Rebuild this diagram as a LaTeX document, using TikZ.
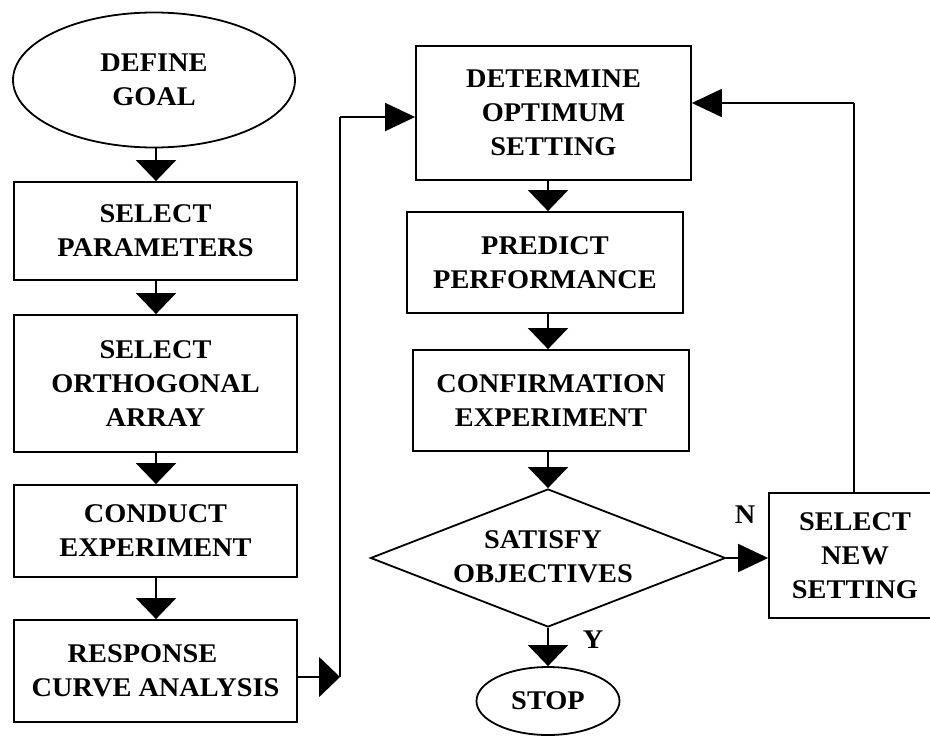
\documentclass[tikz,border=0pt]{standalone}
\usepackage{fontspec}
\setmainfont{Liberation Serif}
\newfontfamily\diagfont[FakeStretch=1.05]{Liberation Serif}
\usetikzlibrary{arrows.meta,shapes.geometric}
\begin{document}
\begin{tikzpicture}[x=1pt,y=-1pt,
  every node/.style={font=\diagfont\fontsize{27}{34}\selectfont\bfseries, align=center, line width=1.8pt},
  box/.style={draw, rectangle, inner sep=0pt},
  oval/.style={draw, ellipse, inner sep=0pt},
  dia/.style={draw, diamond, inner sep=0pt},
  varr/.style={line width=1.8pt, -{Triangle[width=40pt,length=21pt]}},
  harr/.style={line width=1.8pt, -{Triangle[width=28pt,length=30pt]}},
  plain/.style={line width=1.8pt}]
\useasboundingbox (0,0) rectangle (930,736);
% left column
\node[oval, minimum width=282pt, minimum height=135pt] (goal) at (154,80) {DEFINE\\GOAL};
\node[box, minimum width=283pt, minimum height=98pt] (params) at (155.5,231) {SELECT\\PARAMETERS};
\node[box, minimum width=283pt, minimum height=137pt] (ortho) at (155.5,383.5) {SELECT\\ORTHOGONAL\\ARRAY};
\node[box, minimum width=283pt, minimum height=92pt] (conduct) at (155.5,531) {CONDUCT\\EXPERIMENT};
\node[box, minimum width=283pt, minimum height=102pt] (response) at (155.5,671) {RESPONSE\hspace*{26pt}\\CURVE ANALYSIS};
% right column
\node[box, minimum width=275pt, minimum height=134pt] (determine) at (553.5,113) {DETERMINE\\OPTIMUM\\SETTING};
\node[box, minimum width=276pt, minimum height=101pt] (predict) at (545,262.5) {PREDICT\\PERFORMANCE};
\node[box, minimum width=276pt, minimum height=101pt] (confirm) at (551,400.5) {CONFIRMATION\\EXPERIMENT};
\node[dia, minimum width=355pt, minimum height=138pt] (decide) at (548,558) {};
\node (decidetext) at (543,557) {SATISFY\\OBJECTIVES};
\node[oval, minimum width=143pt, minimum height=68pt] (stop) at (548,701) {STOP};
\node[box, minimum width=172pt, minimum height=125pt] (newset) at (855,555.5) {SELECT\\NEW\\SETTING};
\node (nlabel) at (745,515) {N};
\node (ylabel) at (593,640) {Y};
% helper coordinates
\coordinate (ls) at (156,0);
\coordinate (rs) at (548,0);
\coordinate (c1) at (340,677);
\coordinate (c2) at (340,117);
\coordinate (fb) at (854,103);
% connectors
\draw[varr] (goal.south -| ls) -- (params.north -| ls);
\draw[varr] (params.south -| ls) -- (ortho.north -| ls);
\draw[varr] (ortho.south -| ls) -- (conduct.north -| ls);
\draw[varr] (conduct.south -| ls) -- (response.north -| ls);
\draw[varr] (response.east |- c1) -- (c1);
\draw[plain] (c1) -- (c2);
\draw[harr] (c2) -- (determine.west |- c2);
\draw[varr] (determine.south -| rs) -- (predict.north -| rs);
\draw[varr] (predict.south -| rs) -- (confirm.north -| rs);
\draw[varr] (confirm.south -| rs) -- (decide.north);
\draw[harr] (decide.east) -- (newset.west |- decide.east);
\draw[varr] (decide.south) -- (stop.north);
\draw[plain] (newset.north -| fb) -- (fb);
\draw[harr] (fb) -- (determine.east |- fb);
\end{tikzpicture}
\end{document}
